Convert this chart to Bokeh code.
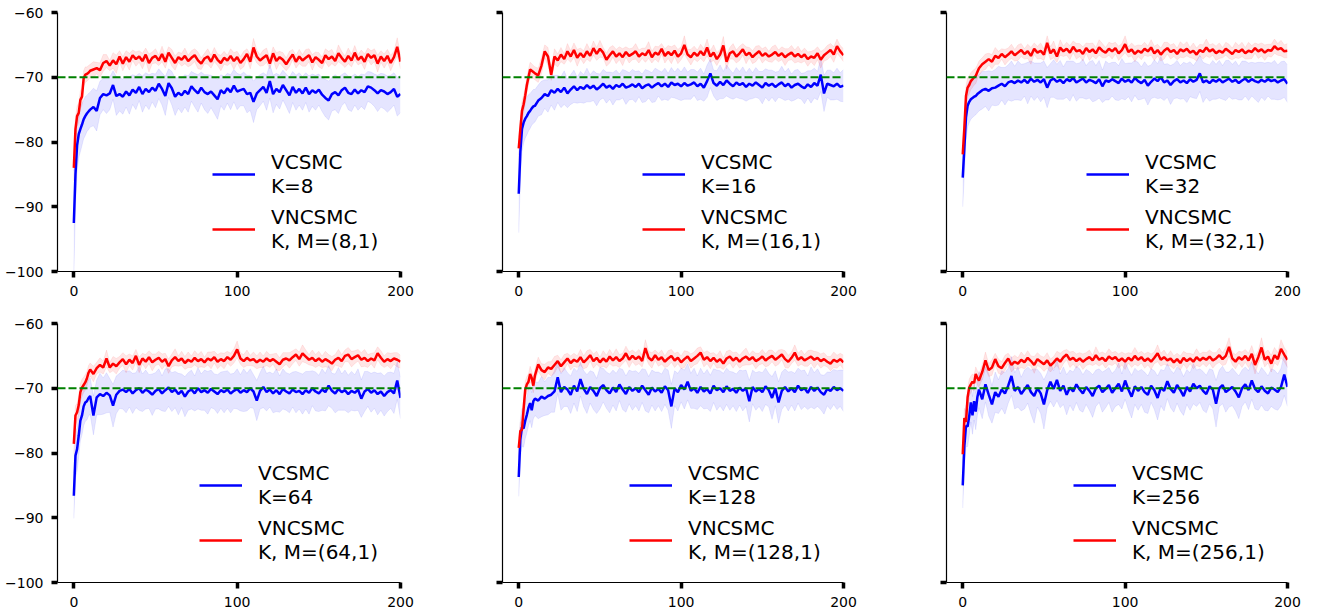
from bokeh.plotting import figure
from bokeh.layouts import gridplot
from bokeh.models import Range1d, FixedTicker, Span, Legend, LegendItem, ColumnDataSource
from bokeh.embed import file_html
from bokeh.resources import INLINE

# ---------------- data ----------------
# x positions: 0..10 every step, then every 2nd step up to 200
K_values = [8, 16, 32, 64, 128, 256]
x_ticks = [0, 100, 200]
y_ticks = [-100, -90, -80, -70, -60]
baseline = -70

vcsmc_8 = [-92.5, -85.0, -80.5, -78.8, -78.0, -77.3, -76.5, -76.0, -75.6, -75.3, -75.0,
    -74.6, -75.2, -73.2, -72.6, -72.8, -72.5, -71.2, -72.9, -72.6, -73.0,
    -72.2, -72.8, -71.9, -72.4, -71.5, -72.6, -71.8, -72.3, -71.6, -72.1,
    -71.0, -71.8, -72.9, -70.9, -71.7, -73.0, -72.4, -72.8, -72.1, -72.6,
    -71.4, -72.0, -72.5, -71.6, -72.3, -72.6, -72.2, -72.8, -73.4, -72.0,
    -72.5, -71.7, -72.3, -71.3, -72.2, -72.0, -71.8, -72.6, -72.4, -73.8,
    -72.5, -72.0, -71.5, -72.4, -70.6, -72.6, -71.8, -72.3, -71.2, -72.0,
    -72.8, -71.5, -72.4, -71.8, -72.5, -71.6, -72.6, -72.0, -72.4, -71.9,
    -72.7, -73.2, -73.6, -72.6, -72.3, -72.8, -72.0, -71.6, -72.4, -72.6,
    -71.9, -72.5, -72.0, -72.3, -71.4, -71.6, -72.0, -72.5, -72.0, -72.2,
    -72.6, -72.3, -71.8, -73.0, -72.6]
vcsmc_8_sd = [8.0, 5.0, 4.0, 3.6, 3.5, 3.2, 3.0, 3.0, 2.8, 2.8, 2.7,
    2.9, 3.1, 2.6, 2.4, 2.8, 2.5, 2.2, 3.0, 2.6, 2.7,
    2.4, 2.9, 2.3, 2.6, 2.1, 2.8, 2.5, 2.7, 2.2, 2.6,
    2.3, 2.5, 3.0, 2.2, 2.6, 2.9, 2.4, 2.7, 2.5, 2.8,
    2.3, 2.6, 2.9, 2.4, 2.7, 3.0, 2.5, 2.8, 3.1, 2.4,
    2.6, 2.3, 2.7, 2.5, 2.8, 2.4, 2.6, 2.9, 2.7, 3.2,
    2.5, 2.4, 2.2, 2.7, 2.6, 2.9, 2.4, 2.6, 2.3, 2.5,
    2.8, 2.4, 2.7, 2.5, 2.6, 2.3, 2.8, 2.5, 2.7, 2.4,
    2.6, 2.9, 3.0, 2.6, 2.7, 2.8, 2.4, 2.3, 2.6, 2.7,
    2.4, 2.6, 2.5, 2.7, 2.3, 2.4, 2.5, 2.8, 2.6, 2.7,
    2.8, 2.6, 2.5, 3.0, 2.9]
vncsmc_8 = [-84.0, -78.0, -76.0, -75.5, -73.5, -73.0, -70.2, -69.6, -69.5, -69.3, -69.0,
    -68.8, -68.6, -68.9, -67.8, -67.5, -68.2, -67.4, -68.0, -66.8, -67.9,
    -66.9, -67.6, -66.6, -67.2, -66.8, -67.5, -66.5, -67.8, -67.0, -66.7,
    -67.4, -66.4, -67.6, -66.2, -67.0, -67.8, -66.9, -67.3, -66.7, -67.5,
    -67.0, -66.6, -67.4, -67.9, -67.1, -66.8, -67.6, -66.5, -67.3, -67.8,
    -67.0, -67.4, -66.7, -67.5, -66.9, -67.8, -67.2, -66.4, -67.6, -65.4,
    -66.8, -67.4, -67.0, -66.6, -67.9, -66.3, -67.5, -66.9, -67.3, -68.0,
    -67.2, -66.5, -67.6, -66.8, -67.4, -67.0, -66.6, -67.7, -66.9, -67.3,
    -67.8, -66.6, -67.2, -66.8, -67.5, -66.3, -67.0, -67.6, -66.7, -67.4,
    -66.2, -67.3, -66.8, -67.6, -66.4, -67.0, -66.6, -67.9, -66.8, -67.5,
    -66.7, -67.8, -66.9, -65.3, -67.6]
vncsmc_8_sd = [2.0, 1.8, 1.6, 1.5, 1.4, 1.3, 1.2, 1.2, 1.1, 1.1, 1.0,
    1.2, 0.9, 1.1, 1.3, 1.0, 0.8, 1.2, 1.4, 0.9, 1.1,
    1.0, 1.3, 0.8, 1.1, 0.9, 1.2, 1.0, 1.4, 0.9, 1.1,
    0.8, 1.2, 1.0, 0.9, 1.3, 1.1, 0.8, 1.0, 1.2, 0.9,
    1.1, 1.0, 1.3, 0.9, 0.8, 1.2, 1.0, 1.1, 0.9, 1.2,
    1.0, 0.8, 1.1, 1.3, 0.9, 1.0, 1.2, 0.8, 1.1, 1.4,
    1.0, 0.9, 1.2, 1.1, 0.8, 1.0, 1.3, 0.9, 1.1, 1.0,
    1.2, 0.8, 1.0, 1.1, 0.9, 1.3, 1.0, 1.2, 0.8, 1.1,
    0.9, 1.0, 1.2, 1.1, 0.8, 1.3, 1.0, 0.9, 1.2, 1.0,
    1.1, 0.8, 1.0, 1.2, 0.9, 1.1, 1.0, 1.3, 0.9, 1.1,
    1.0, 1.2, 0.9, 1.4, 1.1]

vcsmc_16 = [-88.0, -81.5, -78.0, -77.0, -76.4, -76.0, -75.5, -75.2, -74.8, -74.5, -74.4,
    -73.6, -73.2, -72.6, -72.9, -72.0, -72.4, -71.8, -72.3, -71.6, -72.5,
    -71.9, -71.4, -72.0, -71.5, -71.8, -71.2, -71.7, -71.3, -71.9, -71.5,
    -71.0, -71.6, -71.3, -71.8, -71.2, -71.5, -71.0, -71.6, -71.4, -71.1,
    -71.5, -71.0, -71.7, -71.3, -71.1, -71.6, -71.2, -70.9, -71.4, -71.0,
    -71.5, -70.8, -71.2, -71.0, -71.4, -70.9, -71.3, -71.1, -70.8, -71.4,
    -71.0, -71.6, -70.6, -69.4, -70.9, -71.3, -70.7, -71.2, -70.5, -71.0,
    -71.4, -70.8, -71.2, -70.9, -71.5, -71.0, -71.3, -70.8, -71.2, -71.6,
    -70.9, -71.3, -71.0, -71.5, -71.1, -70.8, -71.4, -71.0, -71.6, -71.2,
    -71.0, -71.4, -71.7, -71.1, -71.5, -70.9, -71.3, -69.6, -72.5, -71.0,
    -71.2, -71.4, -71.0, -71.5, -71.3]
vcsmc_16_sd = [6.0, 4.0, 3.5, 3.2, 3.0, 2.9, 2.8, 2.7, 2.6, 2.6, 2.5,
    2.4, 2.6, 2.2, 2.5, 2.3, 2.7, 2.1, 2.4, 2.6, 2.2,
    2.3, 2.5, 2.0, 2.4, 2.2, 2.6, 2.1, 2.3, 2.5, 2.0,
    2.2, 2.4, 2.1, 2.5, 2.3, 2.0, 2.2, 2.6, 2.1, 2.3,
    2.4, 2.0, 2.2, 2.5, 2.1, 2.3, 2.6, 2.0, 2.2, 2.4,
    2.1, 2.3, 2.0, 2.4, 2.2, 2.5, 2.1, 2.3, 2.0, 2.2,
    2.4, 2.1, 2.5, 2.2, 2.0, 2.3, 2.6, 2.1, 2.4, 2.2,
    2.0, 2.3, 2.1, 2.5, 2.2, 2.4, 2.0, 2.3, 2.1, 2.5,
    2.2, 2.4, 2.1, 2.3, 2.0, 2.5, 2.2, 2.4, 2.1, 2.3,
    2.2, 2.0, 2.4, 2.1, 2.5, 2.3, 2.2, 2.6, 2.8, 2.1,
    2.3, 2.1, 2.4, 2.2, 2.5]
vncsmc_16 = [-81.0, -78.0, -75.2, -74.2, -72.8, -71.2, -70.0, -68.8, -69.0, -69.2, -69.4,
    -69.7, -68.2, -66.0, -66.8, -69.6, -66.8, -67.4, -66.5, -67.2, -66.0,
    -66.8, -65.8, -67.0, -66.3, -66.9, -66.0, -66.7, -65.5, -66.4, -65.6,
    -66.2, -67.3, -66.6, -66.0, -66.8, -66.3, -66.9, -66.1, -66.7, -66.4,
    -66.0, -66.8, -66.3, -66.6, -65.8, -66.9, -66.2, -66.5, -65.6, -66.7,
    -66.1, -66.6, -65.9, -66.8, -66.3, -65.0, -66.5, -66.9, -66.2, -66.7,
    -66.0, -66.6, -65.4, -66.8, -66.2, -67.2, -66.5, -65.1, -67.6, -66.3,
    -66.0, -66.8, -66.3, -65.7, -66.6, -66.2, -66.9, -66.4, -66.0, -66.7,
    -66.3, -66.8, -66.5, -66.1, -66.7, -66.3, -66.9, -66.5, -66.2, -66.8,
    -66.4, -66.9, -66.5, -67.2, -66.8, -67.0, -66.3, -67.3, -66.6, -66.2,
    -65.8, -66.5, -65.2, -66.0, -66.6]
vncsmc_16_sd = [1.8, 1.6, 1.5, 1.4, 1.3, 1.2, 1.2, 1.1, 1.1, 1.0, 1.0,
    1.1, 1.3, 1.0, 1.4, 0.9, 1.2, 1.0, 1.1, 0.8, 1.2,
    0.9, 1.1, 1.3, 0.8, 1.0, 1.2, 0.9, 1.1, 1.0, 1.3,
    0.8, 1.0, 1.2, 0.9, 1.1, 1.0, 1.3, 0.8, 1.1, 0.9,
    1.2, 1.0, 0.8, 1.1, 1.3, 0.9, 1.0, 1.2, 0.8, 1.1,
    1.0, 1.3, 0.9, 1.1, 1.0, 1.4, 0.8, 1.2, 1.0, 0.9,
    1.1, 1.0, 1.3, 0.9, 1.2, 1.0, 0.8, 1.4, 1.1, 0.9,
    1.2, 1.0, 1.1, 0.9, 1.3, 0.8, 1.0, 1.2, 0.9, 1.1,
    1.0, 0.8, 1.2, 1.1, 0.9, 1.0, 1.3, 0.9, 1.1, 1.0,
    1.2, 0.9, 1.0, 1.1, 0.8, 1.2, 1.0, 1.3, 0.9, 1.1,
    1.0, 1.2, 1.1, 0.9, 1.0]

vcsmc_32 = [-85.5, -80.9, -76.2, -74.4, -73.8, -73.4, -73.2, -73.0, -72.9, -72.6, -72.4,
    -72.0, -71.8, -72.1, -71.7, -71.6, -71.3, -71.0, -71.4, -70.8, -70.6,
    -70.9, -70.5, -70.8, -70.4, -70.9, -70.2, -70.7, -70.4, -70.8, -70.3,
    -71.6, -70.5, -70.2, -70.7, -70.4, -70.9, -70.3, -70.6, -70.1, -70.8,
    -70.5, -70.2, -70.8, -70.4, -70.6, -70.9, -70.3, -71.4, -70.5, -70.7,
    -70.3, -70.6, -70.9, -70.2, -70.7, -70.4, -70.8, -70.1, -70.6, -70.9,
    -70.4, -71.3, -70.7, -70.2, -70.6, -70.0, -70.8, -70.5, -71.2, -70.6,
    -70.3, -70.8, -70.5, -70.9, -70.3, -70.7, -70.4, -69.4, -70.8, -70.5,
    -70.9, -70.4, -70.7, -70.3, -70.8, -70.5, -70.2, -70.7, -70.4, -70.9,
    -70.5, -70.2, -70.7, -70.3, -70.6, -70.8, -70.4, -70.7, -70.3, -70.6,
    -70.4, -70.8, -70.5, -70.3, -71.0]
vcsmc_32_sd = [4.5, 4.0, 3.6, 3.3, 3.2, 3.1, 3.0, 3.0, 2.9, 2.9, 2.8,
    2.9, 2.7, 3.1, 2.6, 2.8, 3.0, 2.5, 2.9, 2.7, 3.1,
    2.6, 3.0, 2.8, 2.5, 3.2, 2.7, 2.9, 2.6, 3.0, 2.8,
    3.1, 2.6, 2.9, 2.7, 3.0, 2.5, 2.8, 3.1, 2.6, 2.9,
    2.7, 3.0, 2.6, 2.8, 3.2, 2.7, 2.9, 2.5, 3.0, 2.8,
    2.6, 2.9, 2.7, 3.1, 2.8, 2.6, 3.0, 2.7, 2.9, 2.5,
    2.8, 3.0, 2.6, 2.9, 2.7, 3.2, 2.8, 2.6, 3.0, 2.7,
    2.9, 2.6, 2.8, 3.0, 2.7, 2.5, 2.9, 2.8, 3.1, 2.6,
    2.8, 3.0, 2.7, 2.9, 2.6, 3.1, 2.8, 2.7, 2.9, 2.6,
    3.0, 2.7, 2.9, 2.6, 2.8, 3.1, 2.7, 2.9, 2.6, 2.8,
    3.0, 2.7, 2.9, 2.8, 2.9]
vncsmc_32 = [-81.9, -77.8, -72.9, -71.6, -71.2, -70.6, -70.3, -70.0, -69.8, -69.2, -68.6,
    -68.0, -67.6, -67.2, -67.6, -66.7, -67.0, -66.4, -66.9, -66.5, -66.0,
    -66.6, -66.2, -65.8, -66.4, -66.0, -66.7, -65.6, -66.2, -65.9, -66.5,
    -64.7, -66.3, -65.7, -66.8, -65.4, -66.0, -65.6, -66.2, -65.3, -66.0,
    -65.8, -66.4, -65.5, -66.1, -65.7, -66.3, -65.4, -65.9, -66.2, -65.6,
    -66.0, -65.5, -66.3, -65.8, -64.9, -66.1, -65.7, -66.4, -65.9, -66.2,
    -65.6, -66.0, -65.4, -66.3, -65.8, -66.5, -65.9, -65.5, -66.1, -65.8,
    -66.4, -65.7, -66.0, -65.6, -66.2, -65.9, -66.5, -65.8, -66.1, -65.4,
    -66.0, -65.7, -66.3, -65.9, -66.2, -65.6, -66.0, -66.4, -65.8, -66.1,
    -65.7, -66.3, -65.9, -66.1, -65.5, -66.0, -65.7, -66.2, -65.8, -65.9,
    -65.2, -65.7, -65.5, -66.0, -65.9]
vncsmc_32_sd = [1.8, 1.7, 1.6, 1.5, 1.4, 1.3, 1.3, 1.2, 1.2, 1.1, 1.1,
    1.0, 1.2, 0.9, 1.1, 1.3, 1.0, 0.8, 1.2, 1.0, 1.1,
    0.9, 1.2, 1.0, 0.8, 1.1, 1.3, 0.9, 1.0, 1.2, 0.9,
    1.1, 1.0, 1.3, 0.9, 1.2, 0.8, 1.0, 1.1, 0.9, 1.2,
    1.0, 1.1, 0.8, 1.3, 1.0, 0.9, 1.2, 1.1, 0.8, 1.0,
    1.2, 0.9, 1.1, 1.0, 1.3, 0.8, 1.0, 1.2, 0.9, 1.1,
    1.0, 0.8, 1.2, 1.1, 0.9, 1.0, 1.3, 0.9, 1.1, 1.0,
    0.9, 1.2, 1.0, 1.1, 0.8, 1.2, 1.0, 0.9, 1.1, 1.3,
    1.0, 0.9, 1.1, 1.2, 0.8, 1.0, 1.1, 0.9, 1.2, 1.0,
    1.1, 0.9, 1.3, 1.0, 0.8, 1.1, 1.0, 1.2, 0.9, 1.0,
    1.1, 0.9, 1.2, 1.0, 1.1]

vcsmc_64 = [-86.6, -80.4, -79.4, -77.3, -75.0, -74.2, -72.8, -72.2, -72.0, -71.5, -71.2,
    -74.2, -71.4, -70.9, -71.2, -70.7, -71.1, -72.7, -71.0, -70.4, -70.2,
    -70.6, -70.1, -70.8, -70.3, -70.0, -70.7, -70.2, -70.5, -71.0, -70.4,
    -70.1, -70.8, -70.3, -69.9, -70.6, -70.2, -70.9, -70.4, -71.3, -70.5,
    -70.2, -70.8, -70.0, -70.6, -70.3, -70.7, -70.1, -70.5, -70.9, -70.3,
    -70.6, -70.2, -70.8, -70.4, -70.1, -70.7, -70.3, -70.6, -70.0, -70.5,
    -71.9, -70.4, -69.8, -70.6, -70.2, -70.8, -70.3, -70.9, -70.1, -70.5,
    -70.8, -70.2, -70.6, -70.4, -70.9, -70.3, -70.7, -70.0, -70.5, -70.8,
    -70.2, -70.6, -69.6, -70.4, -70.8, -70.1, -70.6, -70.3, -70.9, -70.4,
    -70.7, -70.2, -71.6, -70.5, -70.1, -70.7, -70.3, -70.9, -70.5, -71.2,
    -70.6, -70.3, -70.8, -68.8, -71.5]
vcsmc_64_sd = [3.5, 3.4, 3.3, 3.2, 3.1, 3.0, 3.0, 2.9, 2.9, 2.8, 2.8,
    3.0, 2.7, 3.2, 2.8, 3.1, 2.6, 3.3, 2.9, 2.7, 3.0,
    3.2, 2.8, 3.1, 2.7, 3.4, 2.9, 3.0, 2.6, 3.2, 2.8,
    3.1, 2.7, 3.3, 2.9, 3.0, 2.8, 3.2, 2.6, 3.1, 2.9,
    3.0, 2.7, 3.2, 2.8, 3.1, 3.3, 2.9, 2.7, 3.0, 2.8,
    3.2, 2.9, 3.0, 2.7, 3.1, 2.8, 3.3, 2.9, 3.0, 2.6,
    3.1, 2.8, 3.2, 2.9, 2.7, 3.0, 3.3, 2.8, 3.1, 2.9,
    3.0, 2.7, 3.2, 2.8, 3.1, 2.9, 3.3, 2.7, 3.0, 2.8,
    3.2, 2.9, 3.1, 2.7, 3.0, 3.3, 2.8, 3.1, 2.9, 3.0,
    2.8, 3.2, 2.9, 3.1, 2.7, 3.0, 2.8, 3.2, 2.9, 3.1,
    3.0, 2.8, 3.1, 2.9, 3.2]
vncsmc_64 = [-78.6, -74.2, -73.7, -72.6, -70.6, -69.9, -69.5, -69.1, -68.5, -67.6, -67.1,
    -67.8, -66.9, -66.4, -66.8, -65.4, -66.8, -66.2, -66.6, -66.0, -65.5,
    -66.3, -65.6, -66.1, -65.0, -66.4, -65.4, -65.9, -65.2, -66.0, -65.6,
    -65.3, -65.9, -65.5, -66.6, -65.7, -65.2, -65.8, -65.4, -66.1, -65.6,
    -65.9, -65.3, -65.8, -65.5, -66.0, -65.4, -65.7, -65.2, -65.9, -65.5,
    -65.8, -65.2, -65.6, -65.0, -64.0, -65.4, -65.8, -65.3, -65.7, -65.5,
    -66.0, -65.6, -65.9, -65.4, -65.8, -65.5, -65.9, -66.3, -65.6, -65.4,
    -65.7, -65.2, -64.8, -65.5, -64.6, -65.1, -65.6, -65.3, -65.8, -65.4,
    -65.9, -65.5, -65.8, -66.2, -65.6, -65.3, -65.8, -65.0, -64.8, -65.5,
    -65.2, -64.9, -65.6, -65.3, -65.8, -65.4, -65.7, -64.6, -65.3, -65.9,
    -65.5, -65.8, -65.4, -65.6, -65.9]
vncsmc_64_sd = [1.6, 1.5, 1.4, 1.4, 1.3, 1.3, 1.2, 1.2, 1.1, 1.1, 1.0,
    1.2, 0.9, 1.1, 1.0, 1.3, 0.8, 1.1, 1.2, 0.9, 1.0,
    1.3, 0.9, 1.1, 1.0, 1.2, 0.8, 1.1, 1.0, 1.3, 0.9,
    1.0, 1.2, 0.9, 1.1, 1.0, 1.3, 0.8, 1.1, 1.0, 1.2,
    0.9, 1.1, 1.0, 1.2, 0.8, 1.0, 1.3, 0.9, 1.1, 1.0,
    1.2, 0.9, 1.0, 1.1, 1.3, 0.9, 1.0, 1.2, 0.8, 1.1,
    1.0, 1.2, 0.9, 1.1, 1.0, 0.8, 1.3, 1.0, 1.1, 0.9,
    1.2, 1.0, 0.9, 1.1, 1.3, 1.0, 0.8, 1.2, 1.0, 1.1,
    0.9, 1.2, 1.0, 1.1, 0.8, 1.3, 1.0, 0.9, 1.1, 1.2,
    1.0, 0.9, 1.1, 1.3, 1.0, 0.8, 1.2, 1.0, 1.1, 0.9,
    1.0, 1.2, 0.9, 1.1, 1.0]

vcsmc_128 = [-83.7, -77.8, -76.0, -76.2, -75.0, -74.1, -73.0, -72.3, -73.4, -72.0, -71.6,
    -71.9, -71.3, -71.6, -71.2, -71.0, -70.5, -68.3, -70.6, -69.8, -70.2,
    -71.0, -69.6, -70.5, -68.6, -70.1, -70.9, -69.8, -70.4, -71.2, -70.0,
    -69.5, -70.3, -70.8, -69.9, -70.6, -69.4, -70.2, -70.9, -69.8, -70.4,
    -70.0, -70.6, -69.6, -70.3, -71.0, -69.9, -70.5, -70.1, -70.7, -69.7,
    -70.3, -72.8, -70.0, -70.6, -69.5, -70.2, -69.0, -70.4, -70.0, -70.7,
    -69.8, -70.5, -70.1, -70.8, -69.6, -70.3, -70.0, -70.6, -69.7, -70.4,
    -70.1, -70.7, -69.9, -70.4, -70.0, -72.0, -69.8, -70.5, -70.1, -70.6,
    -69.7, -70.3, -71.5, -70.0, -72.2, -70.4, -69.8, -70.5, -70.0, -70.6,
    -69.6, -70.3, -70.0, -70.7, -69.8, -70.4, -69.9, -70.6, -71.0, -70.1,
    -70.4, -69.8, -70.3, -70.0, -70.4]
vcsmc_128_sd = [3.0, 3.0, 2.9, 2.9, 2.8, 2.8, 2.8, 2.7, 2.7, 2.7, 2.6,
    2.8, 3.1, 2.6, 2.9, 2.7, 3.2, 2.5, 2.8, 3.0, 2.6,
    2.9, 2.7, 3.1, 2.6, 2.8, 3.0, 2.5, 2.9, 2.7, 3.2,
    2.6, 2.8, 3.0, 2.7, 2.9, 2.5, 3.1, 2.8, 2.6, 3.0,
    2.7, 2.9, 2.6, 3.2, 2.8, 2.7, 3.0, 2.6, 2.9, 2.8,
    3.1, 3.4, 2.7, 2.9, 2.6, 3.0, 2.8, 2.7, 3.1, 2.6,
    2.9, 2.7, 3.0, 2.8, 2.6, 3.1, 2.7, 2.9, 2.8, 3.0,
    2.6, 2.9, 2.7, 3.1, 2.8, 3.2, 2.6, 2.9, 2.7, 3.0,
    2.8, 2.6, 3.3, 2.7, 3.2, 2.9, 2.8, 3.0, 2.6, 2.9,
    2.7, 3.0, 2.8, 2.6, 3.1, 2.8, 2.9, 2.7, 3.0, 2.6,
    2.9, 2.7, 3.0, 2.8, 3.2]
vncsmc_128 = [-79.2, -76.6, -76.4, -73.2, -70.2, -69.4, -69.0, -67.8, -68.4, -69.6, -68.0,
    -66.3, -67.2, -67.5, -66.8, -67.0, -66.4, -65.8, -66.6, -66.0, -65.4,
    -66.1, -65.6, -65.9, -65.2, -66.0, -65.5, -64.9, -65.8, -65.3, -66.0,
    -65.4, -65.9, -65.1, -65.7, -65.2, -65.8, -65.4, -64.6, -65.6, -65.0,
    -65.5, -65.1, -65.8, -63.8, -65.3, -65.7, -64.9, -65.6, -65.2, -65.9,
    -65.4, -65.0, -65.7, -65.3, -66.0, -65.5, -65.1, -65.8, -65.4, -65.0,
    -64.5, -65.6, -65.2, -65.8, -65.3, -65.9, -65.5, -66.2, -65.4, -65.1,
    -65.7, -65.3, -65.9, -65.4, -65.1, -65.6, -65.2, -65.8, -65.5, -65.1,
    -65.7, -65.3, -65.0, -65.6, -65.2, -64.8, -65.5, -65.9, -65.3, -64.5,
    -65.6, -65.2, -65.7, -65.4, -65.1, -65.6, -65.3, -65.8, -65.5, -65.9,
    -66.2, -65.6, -65.9, -65.5, -66.0]
vncsmc_128_sd = [1.5, 1.4, 1.4, 1.3, 1.3, 1.2, 1.2, 1.2, 1.1, 1.1, 1.0,
    1.1, 1.0, 1.2, 0.9, 1.1, 1.3, 0.9, 1.0, 1.2, 0.8,
    1.1, 1.0, 0.9, 1.2, 1.0, 1.3, 0.9, 1.1, 1.0, 0.8,
    1.2, 1.0, 1.1, 0.9, 1.3, 1.0, 0.8, 1.1, 1.2, 0.9,
    1.0, 1.1, 0.9, 1.3, 1.0, 1.2, 0.8, 1.0, 1.1, 0.9,
    1.2, 1.0, 1.1, 0.9, 1.0, 1.3, 0.8, 1.1, 1.0, 1.2,
    0.9, 1.1, 1.0, 1.2, 0.8, 1.0, 1.3, 0.9, 1.1, 1.0,
    1.2, 0.9, 1.0, 1.1, 1.3, 0.8, 1.0, 1.2, 0.9, 1.1,
    1.0, 1.2, 0.9, 1.0, 1.1, 0.8, 1.3, 1.0, 0.9, 1.2,
    1.0, 1.1, 0.9, 1.2, 1.0, 1.3, 0.9, 1.1, 1.0, 0.8,
    1.1, 1.2, 1.0, 0.9, 1.1]

vcsmc_256 = [-85.0, -78.9, -75.8, -75.9, -74.3, -72.2, -74.2, -72.0, -73.6, -71.4, -70.2,
    -71.7, -69.4, -71.0, -72.5, -70.6, -71.3, -70.2, -70.8, -69.6, -68.1,
    -70.4, -69.8, -70.9, -70.2, -69.5, -70.6, -71.2, -70.0, -70.8, -72.5,
    -70.3, -69.0, -70.1, -68.7, -70.4, -69.6, -71.0, -69.9, -70.5, -69.4,
    -70.2, -70.8, -69.8, -70.4, -71.2, -70.0, -69.6, -70.6, -70.1, -69.5,
    -70.7, -70.0, -69.3, -70.5, -68.8, -70.2, -71.3, -69.7, -70.4, -69.8,
    -70.6, -71.0, -69.6, -70.3, -71.5, -69.9, -70.4, -68.9, -70.1, -70.7,
    -69.5, -70.3, -71.2, -69.8, -70.5, -69.3, -70.0, -69.6, -70.4, -70.9,
    -69.7, -70.2, -72.4, -70.0, -69.5, -70.6, -70.2, -69.8, -70.5, -71.4,
    -70.0, -69.4, -70.3, -68.8, -70.1, -70.6, -69.7, -70.4, -70.8, -69.9,
    -70.2, -70.6, -69.8, -67.9, -69.8]
vcsmc_256_sd = [3.5, 3.3, 3.2, 3.1, 3.0, 3.0, 2.9, 2.9, 2.8, 2.8, 2.8,
    3.0, 2.7, 3.3, 2.9, 3.1, 2.6, 2.9, 3.2, 2.7, 3.0,
    2.8, 3.1, 2.6, 3.0, 2.8, 3.4, 4.2, 2.9, 3.1, 3.8,
    2.7, 3.0, 2.8, 3.2, 2.6, 2.9, 3.1, 2.7, 3.0, 2.8,
    3.2, 2.9, 2.7, 3.0, 3.3, 2.8, 2.6, 3.1, 2.9, 2.7,
    3.0, 2.8, 3.2, 2.7, 2.9, 3.1, 3.3, 2.8, 3.0, 2.7,
    3.1, 2.9, 2.6, 3.0, 3.4, 2.8, 3.1, 2.7, 2.9, 3.0,
    2.8, 3.2, 3.0, 2.7, 2.9, 3.1, 2.8, 2.6, 3.0, 2.9,
    2.7, 3.0, 3.6, 2.8, 2.9, 3.1, 2.7, 2.9, 3.0, 3.3,
    2.8, 2.7, 3.0, 2.9, 3.1, 2.8, 2.9, 3.0, 2.7, 2.9,
    3.0, 2.8, 2.9, 3.2, 3.0]
vncsmc_256 = [-80.2, -74.6, -75.2, -71.4, -69.9, -69.4, -69.0, -69.2, -67.8, -68.4, -68.8,
    -67.5, -65.7, -67.2, -66.8, -65.5, -66.6, -66.9, -66.1, -65.4, -66.4,
    -65.9, -66.2, -65.6, -66.0, -65.3, -65.8, -66.4, -65.5, -65.9, -66.3,
    -65.7, -66.5, -66.0, -65.4, -65.9, -65.2, -64.8, -65.6, -65.3, -65.8,
    -65.4, -65.9, -65.5, -65.2, -65.7, -64.9, -65.6, -65.3, -65.8, -65.1,
    -65.5, -65.2, -65.8, -65.4, -65.9, -65.3, -65.7, -65.0, -65.6, -65.2,
    -65.8, -65.4, -65.9, -65.3, -64.6, -65.6, -65.2, -65.7, -65.4, -66.0,
    -65.5, -66.1, -65.3, -65.8, -65.4, -65.9, -65.2, -65.7, -65.3, -65.6,
    -65.1, -65.7, -65.4, -64.9, -65.5, -65.0, -63.6, -65.4, -65.9, -65.2,
    -65.6, -65.0, -65.7, -64.7, -66.4, -65.2, -63.7, -65.6, -65.1, -66.2,
    -64.9, -65.5, -63.9, -64.8, -65.6]
vncsmc_256_sd = [1.6, 1.5, 1.5, 1.4, 1.3, 1.3, 1.2, 1.2, 1.1, 1.1, 1.0,
    1.1, 1.3, 1.0, 1.2, 0.9, 1.1, 1.0, 1.2, 0.8, 1.1,
    1.0, 0.9, 1.2, 1.0, 1.1, 0.8, 1.3, 1.0, 0.9, 1.1,
    1.2, 1.0, 0.9, 1.1, 1.3, 1.0, 0.8, 1.2, 1.0, 1.1,
    0.9, 1.2, 1.0, 1.1, 0.8, 1.3, 1.0, 0.9, 1.1, 1.2,
    1.0, 0.9, 1.1, 1.0, 1.2, 0.8, 1.1, 1.3, 1.0, 0.9,
    1.1, 1.0, 1.2, 0.9, 1.3, 1.0, 1.1, 0.8, 1.2, 1.0,
    0.9, 1.1, 1.0, 1.2, 0.8, 1.1, 1.3, 1.0, 0.9, 1.1,
    1.0, 1.2, 0.9, 1.1, 1.0, 1.3, 1.4, 1.0, 1.1, 0.9,
    1.2, 1.0, 1.1, 1.3, 1.4, 1.0, 1.5, 1.1, 1.0, 1.3,
    1.2, 1.0, 1.4, 1.1, 1.2]

panels = [
    (8, vcsmc_8, vcsmc_8_sd, vncsmc_8, vncsmc_8_sd),
    (16, vcsmc_16, vcsmc_16_sd, vncsmc_16, vncsmc_16_sd),
    (32, vcsmc_32, vcsmc_32_sd, vncsmc_32, vncsmc_32_sd),
    (64, vcsmc_64, vcsmc_64_sd, vncsmc_64, vncsmc_64_sd),
    (128, vcsmc_128, vcsmc_128_sd, vncsmc_128, vncsmc_128_sd),
    (256, vcsmc_256, vcsmc_256_sd, vncsmc_256, vncsmc_256_sd),
]


def x_positions(n):
    return list(range(11)) + [12 + 2 * k for k in range(n - 11)]


def series_source(mean, sd):
    n = min(len(mean), len(sd))
    m = mean[:n]
    s = sd[:n]
    return ColumnDataSource(dict(
        x=x_positions(n), y=m,
        lo=[a - b for a, b in zip(m, s)],
        hi=[a + b for a, b in zip(m, s)],
    ))


FONT = "DejaVu Sans"
FRAME_W = [343, 341, 341]
FRAME_H = 259
figs = []
for i, (K, b, bsd, r, rsd) in enumerate(panels):
    row_i, col_i = divmod(i, 3)
    fw = FRAME_W[col_i]
    p = figure(
        frame_width=fw, frame_height=FRAME_H,
        min_border_left=[57, 49, 49][col_i],
        min_border_right=[53, 54, 25][col_i],
        min_border_top=12 if row_i == 0 else 8,
        min_border_bottom=44 if row_i == 0 else 27,
        x_range=Range1d(-10, 200), y_range=Range1d(-100, -60),
        output_backend="svg", toolbar_location=None,
    )
    p.outline_line_color = None
    p.grid.visible = False
    p.background_fill_color = "white"
    p.border_fill_color = "white"

    bsrc = series_source(b, bsd)
    rsrc = series_source(r, rsd)

    p.varea(x="x", y1="lo", y2="hi", source=bsrc, fill_color="blue", fill_alpha=0.1)
    p.line(x="x", y="lo", source=bsrc, line_color="blue", line_alpha=0.08, line_width=1)
    p.line(x="x", y="hi", source=bsrc, line_color="blue", line_alpha=0.08, line_width=1)
    p.varea(x="x", y1="lo", y2="hi", source=rsrc, fill_color="red", fill_alpha=0.1)
    p.line(x="x", y="lo", source=rsrc, line_color="red", line_alpha=0.08, line_width=1)
    p.line(x="x", y="hi", source=rsrc, line_color="red", line_alpha=0.08, line_width=1)

    bl = p.line(x="x", y="y", source=bsrc, line_color="#0000ff", line_width=2.5)
    rl = p.line(x="x", y="y", source=rsrc, line_color="#ff0000", line_width=2.5)

    p.add_layout(Span(location=baseline, dimension="width", line_color="#008000",
                      line_dash="8 3", line_width=2))

    for ax in (p.xaxis[0], p.yaxis[0]):
        ax.axis_line_color = "black"
        ax.axis_line_width = 1.2
        ax.major_tick_line_color = "black"
        ax.major_tick_line_width = 3.5
        ax.major_tick_out = 6
        ax.major_tick_in = 0
        ax.minor_tick_out = 0
        ax.minor_tick_in = 0
        ax.major_label_text_font = FONT
        ax.major_label_text_font_size = "14px"
        ax.major_label_text_color = "black"
    p.xaxis.major_label_standoff = 8
    p.yaxis.major_label_standoff = 8

    p.xaxis.ticker = FixedTicker(ticks=x_ticks)
    if col_i == 0:
        p.yaxis.ticker = FixedTicker(ticks=y_ticks)
        p.yaxis.major_label_overrides = {t: "\u2212" + str(abs(t)) for t in y_ticks}
    else:
        p.yaxis.ticker = FixedTicker(ticks=[y_ticks[0], y_ticks[-1]])
        p.yaxis.major_label_overrides = {y_ticks[0]: "", y_ticks[-1]: ""}

    # legend anchored like matplotlib "lower right": wider labels push it left
    extra_digits = len(str(K)) - 1
    legend_x = fw - 188 - 13 * extra_digits
    legend = Legend(
        items=[LegendItem(label="VCSMC\nK=%d" % K, renderers=[bl]),
               LegendItem(label="VNCSMC\nK, M=(%d,1)" % K, renderers=[rl])],
        location=(legend_x, 18), margin=0, padding=0, spacing=7,
        glyph_width=43, glyph_height=46, label_standoff=16,
        label_text_font=FONT, label_text_font_size="20px",
        label_text_line_height=1.18, label_text_color="black",
        border_line_alpha=0, background_fill_alpha=0,
    )
    p.add_layout(legend)
    figs.append(p)

grid = gridplot(figs, ncols=3, toolbar_location=None)
open("out.html", "w").write(file_html(grid, INLINE))
